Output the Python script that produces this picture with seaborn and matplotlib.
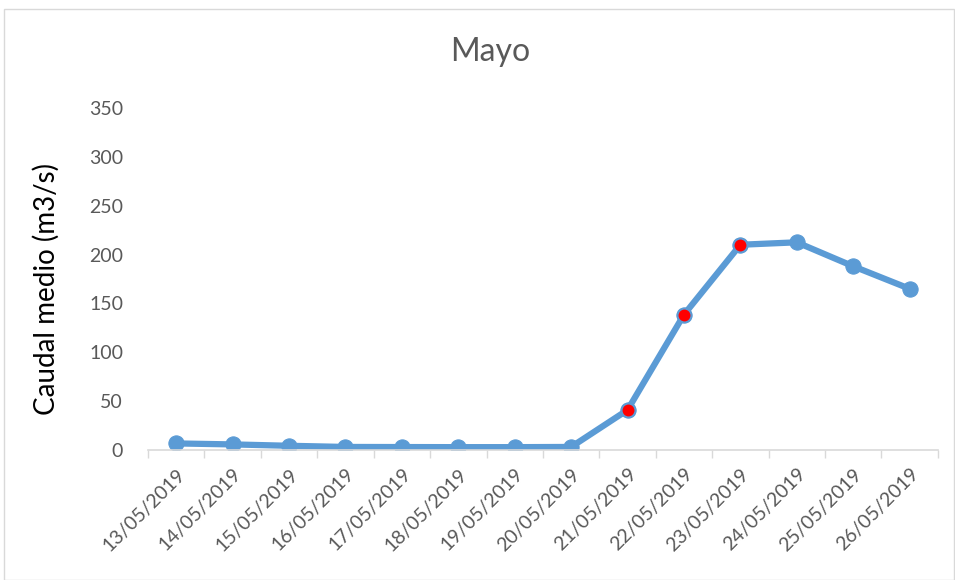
import matplotlib
matplotlib.use("Agg")
import matplotlib.pyplot as plt
import numpy as np
import pandas as pd
import seaborn as sns
from matplotlib.patches import Rectangle

fechas = ["13/05/2019", "14/05/2019", "15/05/2019", "16/05/2019", "17/05/2019",
          "18/05/2019", "19/05/2019", "20/05/2019", "21/05/2019", "22/05/2019",
          "23/05/2019", "24/05/2019", "25/05/2019", "26/05/2019"]
caudal = [6.8, 5.8, 4.4, 3.2, 3.1, 3.0, 3.0, 3.2, 41, 138.5, 210, 212.5, 188, 165]
destacados = ["21/05/2019", "22/05/2019", "23/05/2019"]

df = pd.DataFrame({"fecha": fechas, "caudal": caudal})
df["pos"] = np.arange(len(df))
df_rojo = df[df["fecha"].isin(destacados)]

sns.set_theme(style="white")
plt.rcParams["font.family"] = ["Lato", "DejaVu Sans"]

azul = "#5B9BD5"
gris = "#595959"

fig = plt.figure(figsize=(9.55, 5.8), dpi=100)
ax = fig.add_axes([0.155, 0.224, 0.827, 0.59])

sns.lineplot(data=df, x="pos", y="caudal", color=azul, lw=4.5, marker="o",
             markersize=11, markeredgecolor=azul, ax=ax)
sns.scatterplot(data=df_rojo, x="pos", y="caudal", color="#FF0000", s=95,
                edgecolor=azul, linewidth=1.2, zorder=5, ax=ax)

ax.set_xlim(-0.5, len(fechas) - 0.5)
ax.set_ylim(0, 350)
ax.set_yticks(range(0, 351, 50))
ax.set_xticks(df["pos"])
ax.set_xticklabels(fechas, rotation=45, ha="right", rotation_mode="anchor")
ax.set_xticks(np.arange(-0.5, len(fechas), 1), minor=True)
ax.tick_params(axis="x", which="major", length=0, pad=11, labelsize=14, labelcolor=gris)
ax.tick_params(axis="x", which="minor", length=6, width=1, color="#D9D9D9", bottom=True)
ax.tick_params(axis="y", length=0, pad=18, labelsize=14, labelcolor=gris)

for s in ["top", "right", "left"]:
    ax.spines[s].set_visible(False)
ax.spines["bottom"].set_color("#D9D9D9")
ax.spines["bottom"].set_linewidth(1.2)

ax.set_xlabel("")
ax.set_ylabel("Caudal medio (m3/s)", fontsize=20, color="black")
ax.yaxis.set_label_coords(-0.112, 0.47)
fig.text(0.513, 0.91, "Mayo", ha="center", va="center", fontsize=23, color=gris)

fig.patches.append(Rectangle((0.004, 0.0), 0.995, 0.985, transform=fig.transFigure,
                             fill=False, edgecolor="#D9D9D9", lw=1))

fig.savefig("out.png", dpi=100)
